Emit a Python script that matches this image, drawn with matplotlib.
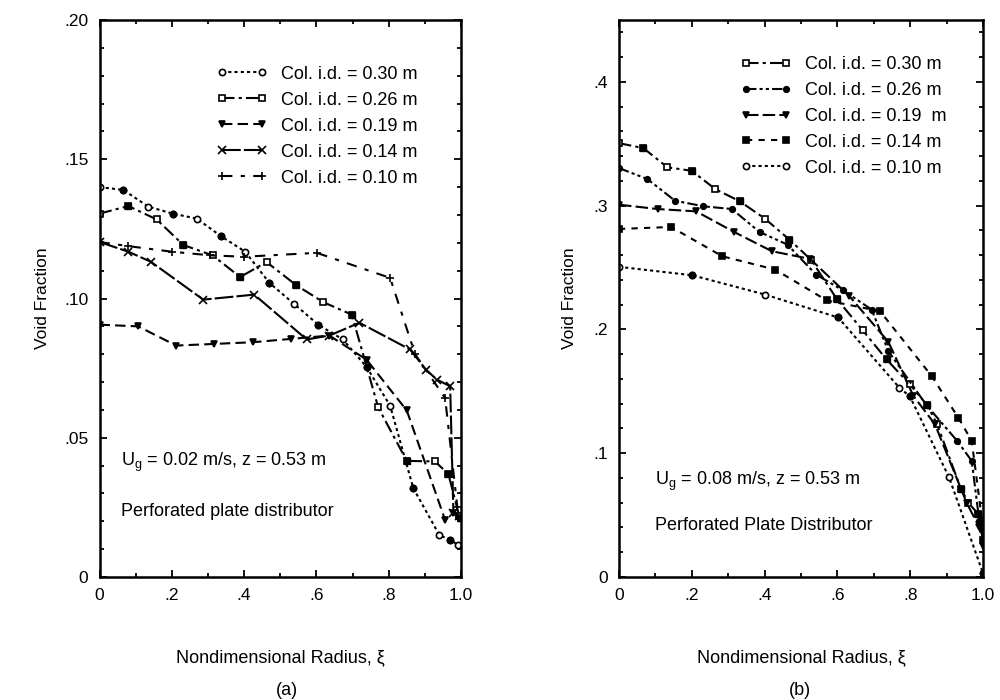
import numpy as np
import matplotlib
matplotlib.use("Agg")
import matplotlib.pyplot as plt
from matplotlib.ticker import MultipleLocator

plt.rcParams['font.family'] = ['Liberation Sans', 'DejaVu Sans']

# ---- datos panel (a): Ug = 0.02 m/s ----
etiquetas_a = ["Col. i.d. = 0.30 m", "Col. i.d. = 0.26 m", "Col. i.d. = 0.19 m",
               "Col. i.d. = 0.14 m", "Col. i.d. = 0.10 m"]

xa_30 = [0, 0.066, 0.135, 0.202, 0.269, 0.336, 0.403, 0.470, 0.538, 0.605,
         0.673, 0.739, 0.804, 0.868, 0.940, 0.970, 0.993]
ya_30 = [0.140, 0.139, 0.133, 0.1305, 0.1287, 0.1224, 0.1168, 0.1056, 0.0981,
         0.0906, 0.0853, 0.0754, 0.0615, 0.0319, 0.0151, 0.0133, 0.0115]

xa_26 = [0, 0.080, 0.158, 0.232, 0.313, 0.389, 0.462, 0.544, 0.619, 0.698,
         0.771, 0.850, 0.928, 0.965, 0.995]
ya_26 = [0.1305, 0.1332, 0.1284, 0.1192, 0.1155, 0.1077, 0.1131, 0.1048,
         0.0987, 0.0942, 0.0609, 0.0417, 0.0415, 0.037, 0.022]

xa_19 = [0, 0.107, 0.212, 0.317, 0.424, 0.530, 0.636, 0.739, 0.850, 0.956,
         0.979, 0.995]
ya_19 = [0.0906, 0.090, 0.0831, 0.0837, 0.0843, 0.0855, 0.0867, 0.078,
         0.0598, 0.0205, 0.023, 0.021]

xa_14 = [0, 0.080, 0.142, 0.287, 0.428, 0.573, 0.636, 0.719, 0.859, 0.903,
         0.933, 0.970, 0.979, 0.995]
ya_14 = [0.1203, 0.1168, 0.1132, 0.0996, 0.1014, 0.0853, 0.0867, 0.0913,
         0.0817, 0.0745, 0.0709, 0.0685, 0.023, 0.022]

xa_10 = [0, 0.080, 0.201, 0.307, 0.400, 0.601, 0.804, 0.873, 0.956, 0.990]
ya_10 = [0.1203, 0.1188, 0.1168, 0.1155, 0.115, 0.1164, 0.1074, 0.080,
         0.0643, 0.025]

# ---- datos panel (b): Ug = 0.08 m/s ----
etiquetas_b = ["Col. i.d. = 0.30 m", "Col. i.d. = 0.26 m", "Col. i.d. = 0.19  m",
               "Col. i.d. = 0.14 m", "Col. i.d. = 0.10 m"]

xb_30 = [0, 0.067, 0.133, 0.200, 0.264, 0.332, 0.401, 0.468, 0.527, 0.598,
         0.669, 0.735, 0.799, 0.847, 0.874, 0.939, 0.960, 0.987, 1.0]
yb_30 = [0.3505, 0.3465, 0.331, 0.3282, 0.3135, 0.3035, 0.2895, 0.2726,
         0.2565, 0.2248, 0.1995, 0.1758, 0.1556, 0.1387, 0.1234, 0.0715,
         0.060, 0.0508, 0.03]

xb_26 = [0, 0.078, 0.154, 0.232, 0.310, 0.386, 0.463, 0.541, 0.616, 0.694,
         0.740, 0.845, 0.929, 0.969, 0.990, 1.0]
yb_26 = [0.3304, 0.3215, 0.304, 0.2995, 0.2973, 0.2788, 0.2685, 0.2444,
         0.2315, 0.2161, 0.1825, 0.1387, 0.110, 0.0938, 0.045, 0.03]

xb_19 = [0, 0.106, 0.212, 0.316, 0.420, 0.525, 0.633, 0.740, 0.809, 0.868,
         0.955, 0.990, 1.0]
yb_19 = [0.3008, 0.2973, 0.2954, 0.2788, 0.2632, 0.257, 0.2269, 0.190,
         0.1462, 0.1234, 0.060, 0.040, 0.025]

xb_14 = [0, 0.143, 0.284, 0.429, 0.571, 0.717, 0.859, 0.932, 0.969, 1.0]
yb_14 = [0.2812, 0.2828, 0.2591, 0.2484, 0.2234, 0.2148, 0.1624, 0.1288,
         0.110, 0.040]

xb_10 = [0, 0.201, 0.401, 0.602, 0.770, 0.799, 0.907, 1.0]
yb_10 = [0.2506, 0.2438, 0.2282, 0.2097, 0.153, 0.146, 0.0804, 0.003]

# etiquetas de los ejes (como en el original, sin el cero delante)
ticks_x = [0, 0.2, 0.4, 0.6, 0.8, 1.0]
ticks_x_lab = ["0", ".2", ".4", ".6", ".8", "1.0"]
ticks_ya = [0, 0.05, 0.10, 0.15, 0.20]
ticks_ya_lab = ["0", ".05", ".10", ".15", ".20"]
ticks_yb = [0, 0.1, 0.2, 0.3, 0.4]
ticks_yb_lab = ["0", ".1", ".2", ".3", ".4"]


def serie(ax, x, y, ls, mk, lab, abierto=True, ms=4.5):
    # linea con marcadores; si abierto, alterno vacio/lleno
    fc = 'white' if abierto else 'black'
    ax.plot(x, y, color='black', linestyle=ls, lw=1.5, marker=mk, ms=ms,
            mfc=fc, mec='black', mew=1.2, label=lab)
    if abierto:
        ax.plot(x[1::2], y[1::2], linestyle='none', marker=mk, ms=ms,
                mfc='black', mec='black')


fig = plt.figure(figsize=(10, 7), dpi=100)
ax1 = fig.add_axes([0.0995, 0.1757, 0.3615, 0.7957])
ax2 = fig.add_axes([0.619, 0.1757, 0.364, 0.7957])

# panel (a)
serie(ax1, xa_30, ya_30, (0, (1.5, 1.5)), 'o', etiquetas_a[0], True, 4.5)
serie(ax1, xa_26, ya_26, (0, (6, 2, 1.5, 2)), 's', etiquetas_a[1], True, 5)
serie(ax1, xa_19, ya_19, (0, (5, 2.5)), 'v', etiquetas_a[2], False, 5)
serie(ax1, xa_14, ya_14, (0, (9, 1.5)), 'x', etiquetas_a[3], False, 5.5)
serie(ax1, xa_10, ya_10, (0, (5, 4, 2, 4)), '+', etiquetas_a[4], False, 5.5)

# panel (b)
serie(ax2, xb_30, yb_30, (0, (6, 2, 1.5, 2)), 's', etiquetas_b[0], True, 5)
serie(ax2, xb_26, yb_26, (0, (5, 1.5, 1.5, 1.5, 1.5, 1.5)), 'o', etiquetas_b[1], False, 4)
serie(ax2, xb_19, yb_19, (0, (6, 2)), 'v', etiquetas_b[2], False, 5)
serie(ax2, xb_14, yb_14, (0, (3, 3)), 's', etiquetas_b[3], False, 4.5)
serie(ax2, xb_10, yb_10, (0, (1.5, 1.5)), 'o', etiquetas_b[4], True, 4.5)

ax1.set_xlim(0, 1.0)
ax1.set_ylim(0, 0.20)
ax1.set_yticks(ticks_ya, ticks_ya_lab)
ax1.yaxis.set_minor_locator(MultipleLocator(0.01))
ax2.set_xlim(0, 1.0)
ax2.set_ylim(0, 0.45)
ax2.set_yticks(ticks_yb, ticks_yb_lab)
ax2.yaxis.set_minor_locator(MultipleLocator(0.02))

for ax in (ax1, ax2):
    ax.set_xticks(ticks_x, ticks_x_lab)
    ax.xaxis.set_minor_locator(MultipleLocator(0.1))
    ax.tick_params(which='both', direction='in', top=True, right=True,
                   labelsize=12.5, width=1.3)
    ax.tick_params(which='major', length=5, pad=8)
    ax.tick_params(which='minor', length=3)
    for sp in ax.spines.values():
        sp.set_linewidth(1.8)
    ax.set_xlabel("Nondimensional Radius, ξ", fontsize=13)
    ax.xaxis.set_label_coords(0.5, -0.13)
    ax.set_ylabel("Void Fraction", fontsize=12.5)

ax1.yaxis.set_label_coords(-0.137, 0.5)
ax2.yaxis.set_label_coords(-0.115, 0.5)

ax1.legend(loc='upper left', bbox_to_anchor=(0.325, 0.918), frameon=False,
           numpoints=2, handlelength=2.8, handletextpad=0.75,
           labelspacing=0.5, borderaxespad=0, borderpad=0, fontsize=13)
ax2.legend(loc='upper left', bbox_to_anchor=(0.335, 0.935), frameon=False,
           numpoints=2, handlelength=2.8, handletextpad=0.75,
           labelspacing=0.49, borderaxespad=0, borderpad=0, fontsize=13)

ax1.text(0.06, 0.200, r"U$_\mathregular{g}$ = 0.02 m/s, z = 0.53 m",
         transform=ax1.transAxes, fontsize=13)
ax1.text(0.06, 0.11, "Perforated plate distributor",
         transform=ax1.transAxes, fontsize=13)
ax2.text(0.10, 0.165, r"U$_\mathregular{g}$ = 0.08 m/s, z = 0.53 m",
         transform=ax2.transAxes, fontsize=13)
ax2.text(0.10, 0.085, "Perforated Plate Distributor",
         transform=ax2.transAxes, fontsize=13)

fig.text(0.287, 0.014, "(a)", ha='center', va='center', fontsize=13)
fig.text(0.800, 0.014, "(b)", ha='center', va='center', fontsize=13)

plt.savefig("out.png", dpi=100)
